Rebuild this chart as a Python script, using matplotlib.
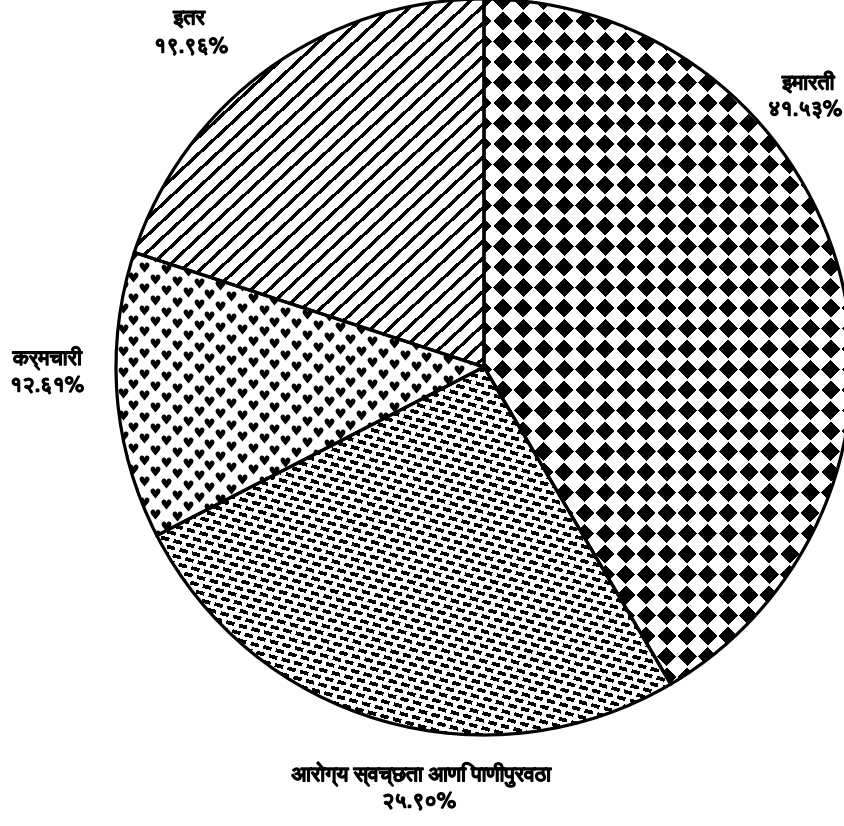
import numpy as np
import matplotlib
matplotlib.use("Agg")
import matplotlib.pyplot as plt
import matplotlib.patheffects as pe
from matplotlib import font_manager as fm
from matplotlib import ft2font

# ---- data ----
categories = ["इमारती", "आरोग्य स्वच्छता आणि पाणीपुरवठा", "कर्मचारी", "इतर"]
shares = [41.53, 25.90, 12.61, 19.96]
pct_labels = ["४१.५३%", "२५.९०%", "१२.६१%", "१९.९६%"]

# ---- find fonts with Devanagari glyphs ----
def find_deva():
    out = []
    for f in fm.fontManager.ttflist:
        try:
            cm = ft2font.FT2Font(f.fname).get_charmap()
            if 0x0907 in cm and 0x0967 in cm:
                out.append(f.name)
        except Exception:
            pass
    return out

names = find_deva()

def pick():
    for pref in ["FreeSans", "FreeSerif"]:
        if pref in names:
            return pref
    good = [n for n in names if "Mono" not in n and "nifont" not in n]
    return good[0] if good else (names[0] if names else None)

deva = pick()
families = ([deva] if deva else []) + ["DejaVu Sans"]
plt.rcParams["font.family"] = families

W, H = 844, 826
fig = plt.figure(figsize=(W / 100, H / 100), dpi=100)
ax = fig.add_axes([0, 0, 1, 1])

cx, cy_img, R = 484, 367, 368
cy = H - cy_img

wedges, _ = ax.pie(shares, startangle=90, counterclock=False,
                   center=(cx, cy), radius=R, frame=True,
                   wedgeprops=dict(facecolor="none", edgecolor="black",
                                   linewidth=2.3, zorder=5))
ax.set_xlim(0, W)
ax.set_ylim(0, H)
ax.set_aspect("equal")
ax.axis("off")

yy, xx = np.mgrid[0:H, 0:W].astype(float)

a = 20.5
u = (xx + yy) / a
v = (xx - yy) / a
fu, fv = u % 1, v % 1
m = 0.04
diam = ((np.floor(u) + np.floor(v)) % 2 == 0) & (fu > m) & (fu < 1 - m) & (fv > m) & (fv < 1 - m)

th = np.deg2rad(15)
p = xx * np.cos(th) + yy * np.sin(th)
q = -xx * np.sin(th) + yy * np.cos(th)
hrow = 7.2
k = np.floor(q / hrow)
dash = ((q % hrow) < 3.8) & (((p + k * 5.0) % 13.0) < 8.5)

ang = np.deg2rad(43)
d = xx * np.sin(ang) + yy * np.cos(ang)
per = 18 * np.sin(ang)
lines = (d % per) < 3.4

def show(mask, wedge):
    img = np.where(mask, 0.0, 1.0)
    im = ax.imshow(img, cmap="gray", vmin=0, vmax=1, extent=(0, W, 0, H),
                   origin="upper", interpolation="nearest", zorder=1)
    im.set_clip_path(wedge)

show(diam, wedges[0])
show(dash, wedges[1])
show(lines, wedges[3])

hx, hy = [], []
for j, yr in enumerate(np.arange(230, 560, 10.7)):
    off = 10.85 if j % 2 else 0.0
    for xc in np.arange(90, 520, 21.7):
        x = xc + off
        hx.append(x)
        hy.append(H - (yr + 0.09 * (x - 90)))
sc = ax.scatter(hx, hy, marker="$\u2665$", s=52, c="black", linewidths=0, zorder=2)
sc.set_clip_path(wedges[2])

fs = 15.5
bold = [pe.withStroke(linewidth=1.1, foreground="black")]
txt = dict(ha="center", va="center", fontsize=fs, color="black", path_effects=bold)
ax.text(808, H - 83, categories[0], **txt)
ax.text(805, H - 110, pct_labels[0], **txt)
ax.text(420, H - 774, categories[1], **txt)
ax.text(419, H - 802, pct_labels[1], **txt)
ax.text(47, H - 358, categories[2], **txt)
ax.text(47, H - 386, pct_labels[2], **txt)
ax.text(189, H - 19, categories[3], **txt)
ax.text(191, H - 47, pct_labels[3], **txt)

fig.savefig("out.png", dpi=100, facecolor="white")
